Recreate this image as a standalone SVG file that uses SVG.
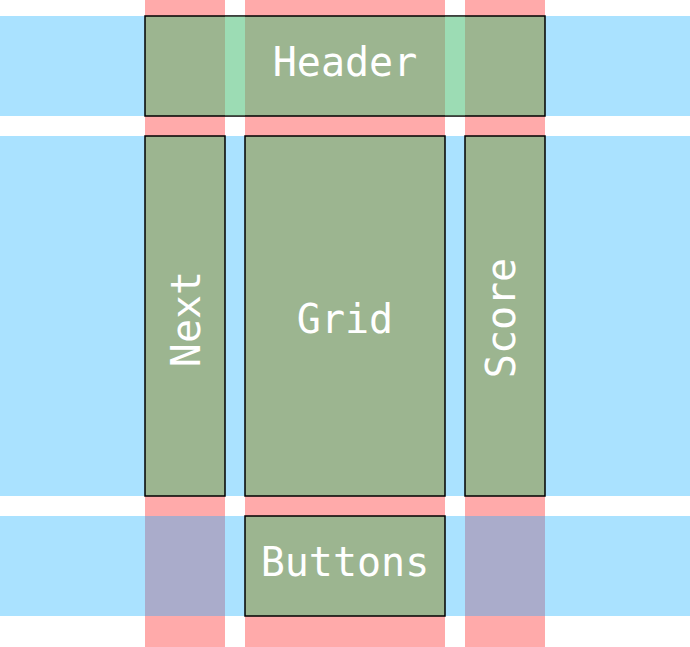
<svg xmlns="http://www.w3.org/2000/svg" width="690" height="647" viewBox="0 0 690 647">
<style>
.col{fill:#ffaaaa}
.row{fill:#aae2ff}
.ov{fill:#aaaccb}
.box{fill:#9cb590;stroke:#000;stroke-width:1.5}
.gap{fill:#9cdcb4}
.lbl{font-family:"DejaVu Sans Mono",monospace;font-size:40px;fill:#fff;text-anchor:middle}
</style>
<rect width="690" height="647" fill="#fff"/>
<g id="tracks">
<rect class="row" x="0" y="16" width="690" height="100"/>
<rect class="row" x="0" y="136" width="690" height="360"/>
<rect class="row" x="0" y="516" width="690" height="100"/>
<rect class="col" x="145" y="0" width="80" height="16"/>
<rect class="col" x="245" y="0" width="200" height="16"/>
<rect class="col" x="465" y="0" width="80" height="16"/>
<rect class="col" x="145" y="116" width="80" height="20"/>
<rect class="col" x="245" y="116" width="200" height="20"/>
<rect class="col" x="465" y="116" width="80" height="20"/>
<rect class="col" x="145" y="496" width="80" height="20"/>
<rect class="col" x="245" y="496" width="200" height="20"/>
<rect class="col" x="465" y="496" width="80" height="20"/>
<rect class="col" x="145" y="616" width="80" height="31"/>
<rect class="col" x="245" y="616" width="200" height="31"/>
<rect class="col" x="465" y="616" width="80" height="31"/>
<rect class="ov" x="145" y="516" width="80" height="100"/>
<rect class="ov" x="465" y="516" width="80" height="100"/>
</g>
<g id="header">
<rect class="box" x="145" y="16" width="400" height="100"/>
<rect class="gap" x="225" y="16.75" width="20" height="98.5"/>
<rect class="gap" x="445" y="16.75" width="20" height="98.5"/>
<text class="lbl" x="345" y="76">Header</text>
</g>
<g id="next">
<rect class="box" x="145" y="136" width="80" height="360"/>
<text class="lbl" transform="translate(200,319) rotate(-90)">Next</text>
</g>
<g id="grid">
<rect class="box" x="245" y="136" width="200" height="360"/>
<text class="lbl" x="345" y="333">Grid</text>
</g>
<g id="score">
<rect class="box" x="465" y="136" width="80" height="360"/>
<text class="lbl" transform="translate(515,318) rotate(-90)">Score</text>
</g>
<g id="buttons">
<rect class="box" x="245" y="516" width="200" height="100"/>
<text class="lbl" x="345" y="576">Buttons</text>
</g>
<g id="connectors"/>
</svg>
